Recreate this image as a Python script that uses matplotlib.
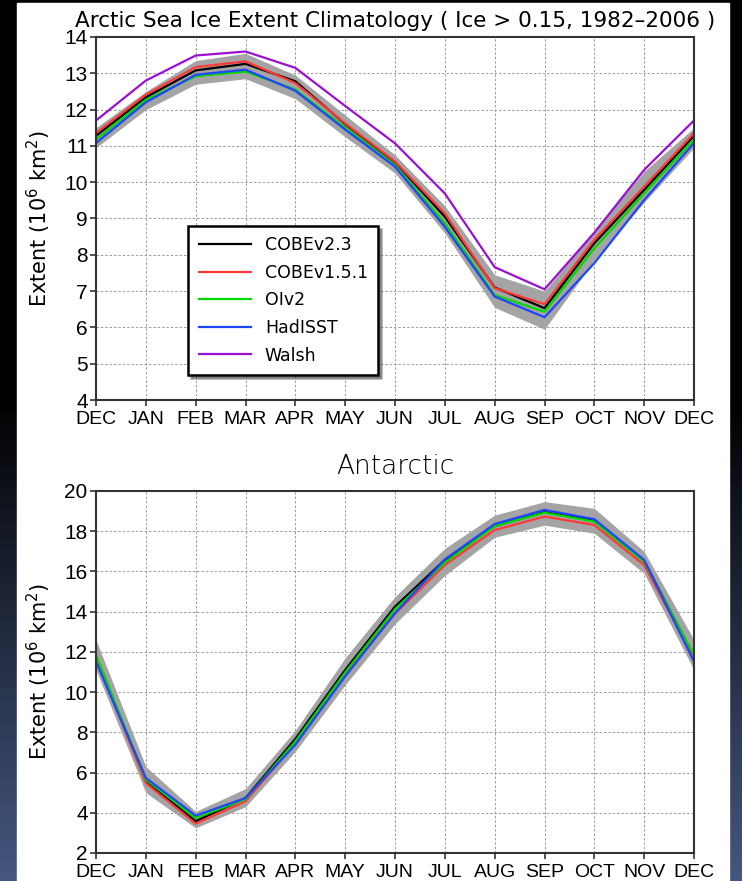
import numpy as np
import matplotlib
matplotlib.use('Agg')
import matplotlib.pyplot as plt
from matplotlib.patches import Rectangle

plt.rcParams['font.family'] = ['DejaVu Sans']
tickfont = ['Liberation Sans', 'DejaVu Sans']

months = ['DEC', 'JAN', 'FEB', 'MAR', 'APR', 'MAY', 'JUN',
          'JUL', 'AUG', 'SEP', 'OCT', 'NOV', 'DEC']

# Arctic extents (10^6 km^2), DEC..DEC
arc_cobe23 = [11.28, 12.34, 13.08, 13.26, 12.78, 11.60, 10.55, 9.05, 7.10, 6.53, 8.32, 9.79, 11.28]
arc_cobe151 = [11.35, 12.41, 13.17, 13.33, 12.73, 11.62, 10.57, 9.14, 7.08, 6.64, 8.41, 9.88, 11.35]
arc_oiv2 = [11.18, 12.27, 12.92, 13.05, 12.55, 11.50, 10.47, 8.87, 6.89, 6.43, 8.18, 9.69, 11.18]
arc_hadisst = [11.08, 12.20, 12.96, 13.10, 12.52, 11.45, 10.43, 8.77, 6.85, 6.28, 7.77, 9.51, 11.08]
arc_walsh = [11.70, 12.80, 13.49, 13.60, 13.15, 12.10, 11.07, 9.69, 7.66, 7.05, 8.61, 10.34, 11.70]
arc_hi = [11.50, 12.50, 13.35, 13.55, 12.95, 11.85, 10.75, 9.35, 7.45, 7.00, 8.65, 10.30, 11.50]
arc_lo = [10.95, 12.00, 12.70, 12.85, 12.30, 11.25, 10.25, 8.60, 6.55, 5.95, 7.85, 9.45, 10.95]

# Antarctic extents
ant_cobe23 = [11.77, 5.56, 3.58, 4.73, 7.67, 11.10, 14.25, 16.57, 18.26, 18.95, 18.52, 16.52, 11.77]
ant_cobe151 = [11.69, 5.48, 3.46, 4.57, 7.47, 10.90, 13.90, 16.32, 18.06, 18.73, 18.31, 16.32, 11.69]
ant_oiv2 = [11.85, 5.65, 3.74, 4.68, 7.55, 10.98, 14.12, 16.44, 18.26, 18.92, 18.48, 16.49, 11.85]
ant_hadisst = [11.52, 5.73, 3.86, 4.73, 7.38, 10.78, 13.92, 16.60, 18.36, 19.06, 18.60, 16.57, 11.52]
ant_hi = [12.60, 6.30, 4.07, 5.20, 8.10, 11.70, 14.75, 17.15, 18.80, 19.47, 19.14, 16.99, 12.60]
ant_lo = [11.10, 5.00, 3.25, 4.30, 7.05, 10.36, 13.40, 15.80, 17.70, 18.30, 17.90, 15.90, 11.10]

names = ['COBEv2.3', 'COBEv1.5.1', 'OIv2', 'HadISST', 'Walsh']
colors = ['#000000', '#ff3838', '#00d800', '#1f45ff', '#9a10d0']

fig = plt.figure(figsize=(7.42, 8.81), dpi=100)

# dark background with a blue fade at the bottom, white page on top
bg = fig.add_axes([0, 0, 1, 1])
grad = np.linspace(0, 1, 256).reshape(-1, 1)
grad = np.clip((grad - 0.45) / 0.55, 0, 1)
top = np.array([0.0, 0.0, 0.0])
bot = np.array([0.27, 0.34, 0.50])
img = top + grad[..., None] * (bot - top)
bg.imshow(img, aspect='auto', extent=[0, 1, 1, 0])
bg.set_xlim(0, 1)
bg.set_ylim(1, 0)
bg.add_patch(Rectangle((17 / 742, 3 / 881), (729 - 17) / 742, 1.0, color='white'))
bg.axis('off')

x = np.arange(len(months))


def style(ax, ylo, yhi, ystep):
    ax.set_xlim(0, 12)
    ax.set_ylim(ylo, yhi)
    ax.set_xticks(x)
    ax.set_xticklabels(months, family=tickfont, fontsize=14)
    yt = np.arange(ylo, yhi + 0.1, ystep)
    ax.set_yticks(yt)
    ax.set_yticklabels([str(int(t)) for t in yt], family=tickfont, fontsize=15)
    ax.grid(True, color='#9a9a9a', linestyle=(0, (2.5, 2)), linewidth=0.7)
    ax.set_axisbelow(True)
    ax.tick_params(direction='out', length=4, width=1.2, color='#333333')
    ax.tick_params(axis='x', pad=4)
    ax.tick_params(axis='y', pad=2)
    for s in ax.spines.values():
        s.set_linewidth(1.5)
        s.set_color('#333333')
    ax.set_ylabel('Extent (10$^6$ km$^2$)', fontsize=15, labelpad=8)


ax1 = fig.add_axes([96 / 742, 1 - 400 / 881, 598 / 742, 363 / 881])
ax1.fill_between(x, arc_lo, arc_hi, color='#a4a4a4', linewidth=0)
arc = [arc_cobe23, arc_cobe151, arc_oiv2, arc_hadisst, arc_walsh]
for v, n, c in zip(arc, names, colors):
    ax1.plot(x, v, color=c, lw=1.6, label=n)
style(ax1, 4, 14, 1)
ax1.set_title('Arctic Sea Ice Extent Climatology ( Ice > 0.15, 1982\u20132006 )',
              fontsize=15.5, pad=7, fontweight='medium')
leg = ax1.legend(loc='lower left', bbox_to_anchor=(0.14, 0.045), fontsize=12.5,
                 frameon=True, fancybox=False, shadow=True, edgecolor='black',
                 handlelength=3.0, labelspacing=0.55, borderpad=0.6,
                 handletextpad=0.8)
leg.get_frame().set_linewidth(1.8)
leg.get_frame().set_alpha(1)

ax2 = fig.add_axes([96 / 742, 1 - 853 / 881, 598 / 742, 362 / 881])
ax2.fill_between(x, ant_lo, ant_hi, color='#a4a4a4', linewidth=0)
ant = [ant_cobe23, ant_cobe151, ant_oiv2, ant_hadisst]
for v, n, c in zip(ant, names, colors):
    ax2.plot(x, v, color=c, lw=1.6, label=n)
style(ax2, 2, 20, 2)
ax2.set_title('Antarctic', fontsize=19, pad=12, fontweight='light')

fig.savefig('out.png', dpi=100)
